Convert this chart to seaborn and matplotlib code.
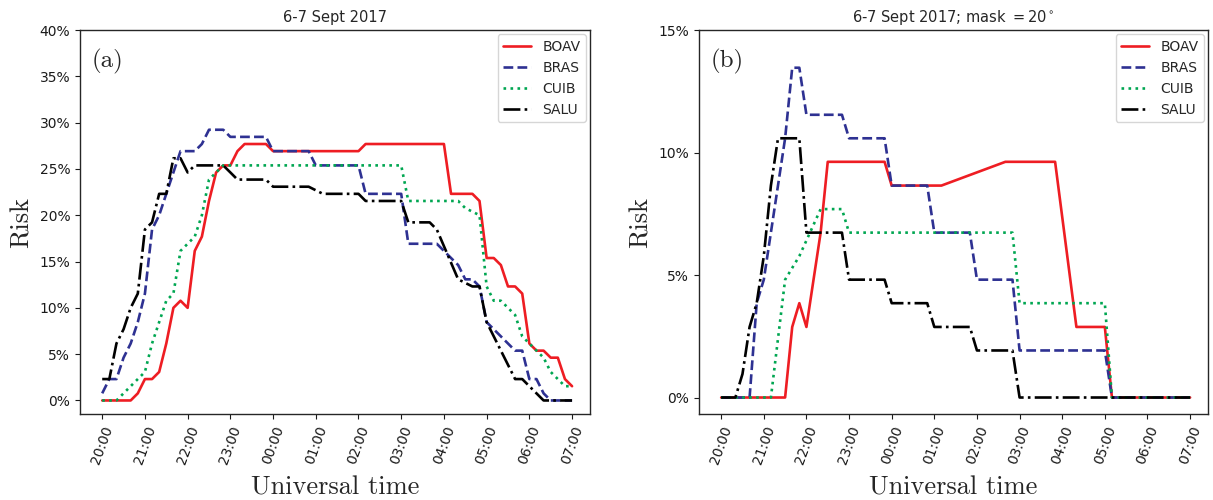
import numpy as np
import pandas as pd
import matplotlib
matplotlib.use("Agg")
import matplotlib.pyplot as plt
import matplotlib.colors as mcolors
import seaborn as sns
from matplotlib.ticker import PercentFormatter

# ---------------- data (minutes after 20:00 UT, risk in %) ----------------
stations = ["BOAV", "BRAS", "CUIB", "SALU"]
tick_labels = ["20:00", "21:00", "22:00", "23:00", "00:00", "01:00",
               "02:00", "03:00", "04:00", "05:00", "06:00", "07:00"]

# panel (a): no elevation mask
boav_a_min = [0, 40, 50, 60, 70, 80, 90, 100, 110, 120, 130, 140, 150, 160, 170, 180, 190, 200,
              230, 240, 360, 370, 480, 490, 520, 530, 540, 550, 560, 570, 580, 590, 600, 610,
              620, 630, 640, 650, 660]
boav_a_val = [0, 0, 0.77, 2.31, 2.31, 3.08, 6.15, 10.0, 10.77, 10.0, 16.15, 17.69, 21.54, 24.62,
              25.38, 25.38, 26.92, 27.69, 27.69, 26.92, 26.92, 27.69, 27.69, 22.31, 22.31, 21.54,
              15.38, 15.38, 14.62, 12.31, 12.31, 11.54, 6.15, 5.38, 5.38, 4.62, 4.62, 2.31, 1.54]

bras_a_min = [0, 10, 20, 30, 40, 50, 60, 70, 80, 90, 100, 110, 130, 140, 150, 170, 180, 230, 240,
              290, 300, 360, 370, 420, 430, 470, 480, 490, 500, 510, 520, 530, 540, 550, 560, 570,
              580, 590, 600, 610, 620, 630, 660]
bras_a_val = [0.77, 2.31, 2.31, 4.62, 6.15, 8.46, 11.54, 18.46, 20.0, 22.31, 24.62, 26.92, 26.92,
              27.69, 29.23, 29.23, 28.46, 28.46, 26.92, 26.92, 25.38, 25.38, 22.31, 22.31, 16.92,
              16.92, 16.15, 15.38, 14.62, 13.08, 13.08, 12.31, 8.46, 7.69, 6.92, 6.15, 5.38, 5.38,
              2.31, 2.31, 0.77, 0, 0]

cuib_a_min = [0, 20, 30, 40, 50, 60, 70, 80, 90, 100, 110, 120, 130, 140, 150, 160, 170, 420, 430,
              500, 510, 530, 540, 550, 560, 570, 580, 590, 600, 610, 620, 630, 640, 650, 660]
cuib_a_val = [0, 0, 0.77, 1.54, 2.31, 3.08, 6.15, 8.46, 10.77, 11.54, 16.15, 16.92, 17.69, 20.0,
              23.85, 24.62, 25.38, 25.38, 21.54, 21.54, 20.77, 20.0, 12.31, 10.77, 10.77, 10.0,
              9.23, 6.92, 6.15, 5.38, 4.62, 3.08, 2.31, 1.54, 1.54]

salu_a_min = [0, 10, 20, 30, 40, 50, 60, 70, 80, 90, 100, 110, 120, 130, 170, 180, 190, 230, 240,
              290, 310, 360, 370, 420, 430, 460, 470, 500, 520, 530, 540, 580, 590, 620, 660]
salu_a_val = [2.31, 2.31, 6.15, 7.69, 10.0, 11.54, 18.46, 19.23, 22.31, 22.31, 26.15, 26.15, 24.62,
              25.38, 25.38, 24.62, 23.85, 23.85, 23.08, 23.08, 22.31, 22.31, 21.54, 21.54, 19.23,
              19.23, 18.46, 13.08, 12.31, 12.31, 8.46, 2.31, 2.31, 0, 0]

# panel (b): elevation mask 20 deg
boav_b_min = [0, 90, 100, 110, 120, 130, 140, 150, 230, 240, 310, 400, 470, 500, 540, 550, 660]
boav_b_val = [0, 0, 2.88, 3.85, 2.88, 4.81, 6.73, 9.62, 9.62, 8.65, 8.65, 9.62, 9.62, 2.88, 2.88, 0, 0]

bras_b_min = [0, 40, 50, 60, 90, 100, 110, 120, 170, 180, 230, 240, 290, 300, 350, 360, 410, 420,
              540, 550, 660]
bras_b_val = [0, 0, 3.85, 4.81, 10.58, 13.46, 13.46, 11.54, 11.54, 10.58, 10.58, 8.65, 8.65, 6.73,
              6.73, 4.81, 4.81, 1.92, 1.92, 0, 0]

cuib_b_min = [0, 70, 90, 110, 140, 170, 180, 410, 420, 540, 550, 660]
cuib_b_val = [0, 0, 4.81, 5.77, 7.69, 7.69, 6.73, 6.73, 3.85, 3.85, 0, 0]

salu_b_min = [0, 20, 30, 40, 50, 60, 70, 80, 110, 120, 170, 180, 230, 240, 290, 300, 350, 360,
              410, 420, 660]
salu_b_val = [0, 0, 0.96, 2.88, 3.85, 5.77, 8.65, 10.58, 10.58, 6.73, 6.73, 4.81, 4.81, 3.85,
              3.85, 2.88, 2.88, 1.92, 1.92, 0, 0]

titles = ["6-7 Sept 2017", "6-7 Sept 2017; mask $= 20^\\circ$"]
panel_tags = ["(a)", "(b)"]
ytops = [40, 15]

# ---------------- styling ----------------
sns.set_style("ticks")
plt.rcParams.update({
    "font.family": ["DejaVu Sans"],
    "axes.edgecolor": "0.15",
    "axes.linewidth": 1.0,
    "xtick.major.size": 3.5,
    "ytick.major.size": 3.5,
    "xtick.labelsize": 10,
    "ytick.labelsize": 10,
    "xtick.color": "0.1",
    "ytick.color": "0.1",
})

colors = {"BOAV": "#ee1d23", "BRAS": "#2e3192", "CUIB": "#00a651", "SALU": "#000000"}
dashes = {"BOAV": "", "BRAS": (3.7, 1.6), "CUIB": (1, 1.65), "SALU": (6.4, 1.6, 1, 1.6)}


def frame(mins, vals, name):
    return pd.DataFrame({"hour": np.asarray(mins) / 60.0, "risk": vals, "station": name})


df_a = pd.concat([frame(boav_a_min, boav_a_val, "BOAV"), frame(bras_a_min, bras_a_val, "BRAS"),
                  frame(cuib_a_min, cuib_a_val, "CUIB"), frame(salu_a_min, salu_a_val, "SALU")])
df_b = pd.concat([frame(boav_b_min, boav_b_val, "BOAV"), frame(bras_b_min, bras_b_val, "BRAS"),
                  frame(cuib_b_min, cuib_b_val, "CUIB"), frame(salu_b_min, salu_b_val, "SALU")])

W, H = 1213, 500
fig = plt.figure(figsize=(W / 100, H / 100), dpi=100)
ax1 = fig.add_axes([80 / W, 86 / H, 510 / W, 384 / H])
ax2 = fig.add_axes([699 / W, 86 / H, 509 / W, 384 / H])

for ax, df, title, tag, ytop in zip([ax1, ax2], [df_a, df_b], titles, panel_tags, ytops):
    sns.lineplot(data=df, x="hour", y="risk", hue="station", style="station",
                 hue_order=stations, style_order=stations, palette=colors, dashes=dashes,
                 estimator=None, sort=False, lw=1.9, legend=False, ax=ax)
    ax.set_xlim(-0.52, 11.42)
    lo = -0.05 * df["risk"].max()
    ax.set_ylim(lo, ytop)
    ax.set_yticks(np.arange(0, ytop + 0.1, 5))
    ax.yaxis.set_major_formatter(PercentFormatter(xmax=100, decimals=0))
    ax.set_xticks(range(len(tick_labels)))
    ax.set_xticklabels(tick_labels, rotation=70)
    ax.set_xlabel("Universal time", fontsize=19, fontfamily="cmr10", labelpad=7)
    ax.set_ylabel("Risk", fontsize=19, fontfamily="cmr10")
    ax.set_title(title, fontsize=10.5)
    ax.text(0.023, 0.917, tag, transform=ax.transAxes, fontsize=18, fontfamily="cmr10",
            va="center", ha="left")
    handles = {}
    for ln in ax.get_lines():
        c = mcolors.to_hex(ln.get_color())
        for s in stations:
            if c == colors[s] and s not in handles:
                handles[s] = ln
    ax.legend([handles[s] for s in stations], stations, loc="upper right", fontsize=10,
              frameon=True, borderaxespad=0.3)
    for sp in ax.spines.values():
        sp.set_visible(True)

fig.savefig("out.png", dpi=100)
